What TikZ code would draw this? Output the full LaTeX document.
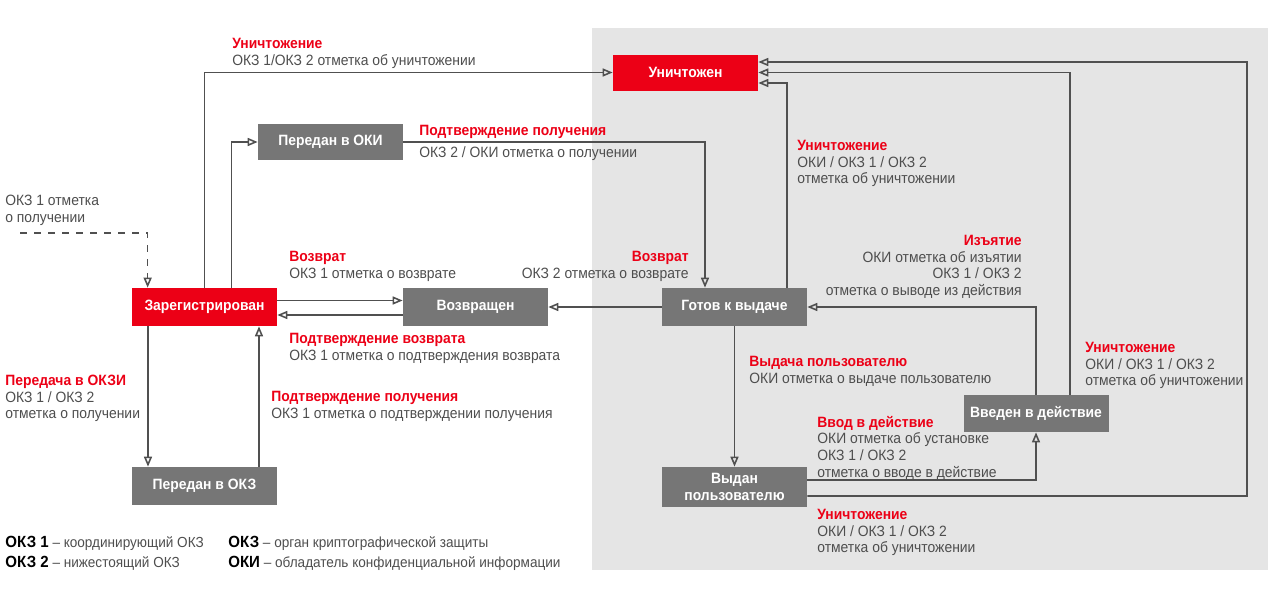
\documentclass[tikz,border=0pt]{standalone}
\usepackage{fontspec}
\setmainfont{Liberation Sans}[FakeStretch=0.93]
\usetikzlibrary{positioning,arrows.meta}
\usepackage{xcolor}
\definecolor{okred}{RGB}{236,0,22}
\definecolor{okgray}{RGB}{118,118,118}
\definecolor{okline}{RGB}{80,80,80}
\definecolor{oktext}{RGB}{78,78,78}
\definecolor{okzone}{RGB}{229,229,229}
\newcommand{\ttl}[1]{\textcolor{okred}{\bfseries #1}}
\newcommand{\term}[1]{\textcolor{black}{\fontsize{9.2}{11}\selectfont\bfseries #1}}

\tikzset{
  statebox/.style={fill=okgray, text=white, font=\fontsize{8.5}{10}\selectfont\bfseries,
    minimum width=29mm, minimum height=7.2mm, align=center, inner sep=1pt},
  redbox/.style={statebox, fill=okred},
  flow/.style={draw=okline, line width=0.9pt, -{Triangle[open,length=2mm,width=1.6mm]}},
  note/.style={anchor=north west, inner sep=0pt, align=left, text=oktext,
    font=\fontsize{8.5}{9.4}\selectfont},
  rnote/.style={note, anchor=north east, align=right},
}

\begin{document}
\begin{tikzpicture}[x=0.2mm, y=-0.2mm]
  \useasboundingbox (0,0) rectangle (1280,591);
  % zone of the owner
  \fill[okzone] (592,28) rectangle (1268,570);

  % states
  \node[redbox]   (unich)   at (685.5,72.5) {Уничтожен};
  \node[statebox] (peroki)  at (330.5,142)  {Передан в ОКИ};
  \node[redbox, minimum height=7.6mm]   (zareg)   at (204.5,307) {Зарегистрирован};
  \node[statebox, minimum height=7.6mm] (vozvr)   at (475.5,307) {Возвращен};
  \node[statebox, minimum height=7.6mm] (gotov)   at (734.5,307) {Готов к выдаче};
  \node[statebox, minimum height=7.4mm] (vveden)  at (1036,413.5) {Введен в действие};
  \node[statebox, minimum height=8mm]   (vydan)   at (734.5,487) {Выдан\\пользователю};
  \node[statebox, minimum height=7.6mm] (perokz)  at (204.5,486) {Передан в ОКЗ};
  \coordinate (dashstart) at (20,233);

  % transitions
  \draw[flow] (zareg.north) |- (unich.west);
  \draw[flow] ([xshift=5.4mm]zareg.north) |- (peroki.west);
  \draw[flow] (peroki.east) -| ([xshift=-5.9mm]gotov.north);
  \draw[flow, dash pattern=on 1.4mm off 1.4mm] (dashstart) -| ([xshift=3.2mm]zareg.north west);
  \draw[flow] ([yshift=1.3mm]zareg.east) -- ([yshift=1.3mm]vozvr.west);
  \draw[flow] ([yshift=-1.6mm]vozvr.west) -- ([yshift=-1.6mm]zareg.east);
  \draw[flow] (gotov.west) -- (vozvr.east);
  \draw[flow] ([xshift=10.5mm]gotov.north) |- ([yshift=-2.1mm]unich.east);
  \draw[flow] (vveden.north) |- (gotov.east);
  \draw[flow] ([xshift=6.8mm]vveden.north) |- (unich.east);
  \draw[flow] ([yshift=-1.8mm]vydan.east) -| (1247,62) -- ([yshift=2.1mm]unich.east);
  \draw[flow] ([yshift=1.4mm]vydan.east) -| (vveden.south);
  \draw[flow] (gotov.south) -- (vydan.north);
  \draw[flow] ([xshift=-11.3mm]zareg.south) -- ([xshift=-11.3mm]perokz.north);
  \draw[flow] ([xshift=10.9mm]perokz.north) -- ([xshift=10.9mm]zareg.south);

  % labels
  \node[note] (ldestr1) at (232,38) {\ttl{Уничтожение}\\ОКЗ 1/ОКЗ 2 отметка об уничтожении};
  \node[note] (lconf1)  at (419,125) {\ttl{Подтверждение получения}\\[1.1mm]ОКЗ 2 / ОКИ отметка о получении};
  \node[note] (ldestr2) at (797,140) {\ttl{Уничтожение}\\ОКИ / ОКЗ 1 / ОКЗ 2\\отметка об уничтожении};
  \node[note] (lokz)    at (5,195)   {ОКЗ 1 отметка\\о получении};
  \node[note] (lret1)   at (289,251) {\ttl{Возврат}\\ОКЗ 1 отметка о возврате};
  \node[rnote] (lret2)  at (689,251) {\ttl{Возврат}\\ОКЗ 2 отметка о возврате};
  \node[rnote] (lwith)  at (1022,235) {\ttl{Изъятие}\\ОКИ отметка об изъятии\\ОКЗ 1 / ОКЗ 2\\отметка о выводе из действия};
  \node[note] (lconf2)  at (289,333) {\ttl{Подтверждение возврата}\\ОКЗ 1 отметка о подтверждения возврата};
  \node[note] (lissue)  at (749,356) {\ttl{Выдача пользователю}\\ОКИ отметка о выдаче пользователю};
  \node[note] (ldestr3) at (1085,342) {\ttl{Уничтожение}\\ОКИ / ОКЗ 1 / ОКЗ 2\\отметка об уничтожении};
  \node[note] (ltrans)  at (5,375)   {\ttl{Передача в ОКЗИ}\\ОКЗ 1 / ОКЗ 2\\отметка о получении};
  \node[note] (lconf3)  at (271,391) {\ttl{Подтверждение получения}\\ОКЗ 1 отметка о подтверждении получения};
  \node[note] (lcomm)   at (817,416) {\ttl{Ввод в действие}\\ОКИ отметка об установке\\ОКЗ 1 / ОКЗ 2\\отметка о вводе в действие};
  \node[note] (ldestr4) at (817,509) {\ttl{Уничтожение}\\ОКИ / ОКЗ 1 / ОКЗ 2\\отметка об уничтожении};

  % legend
  \node[note, font=\fontsize{8.3}{11.4}\selectfont] (legend1) at (5,536)
    {\term{ОКЗ 1} -- координирующий ОКЗ\\\term{ОКЗ 2} -- нижестоящий ОКЗ};
  \node[note, font=\fontsize{8.3}{11.4}\selectfont] (legend2) at (228,536)
    {\term{ОКЗ} -- орган криптографической защиты\\\term{ОКИ} -- обладатель конфиденциальной информации};
\end{tikzpicture}
\end{document}
